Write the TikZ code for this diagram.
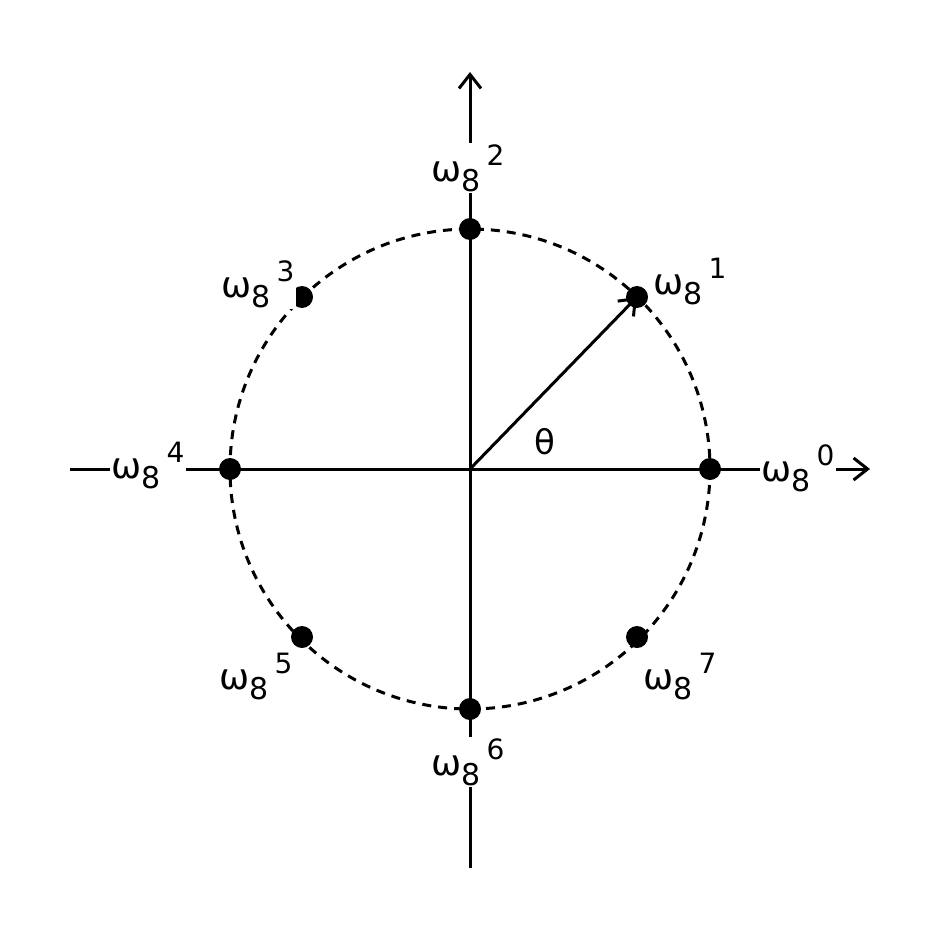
\documentclass[tikz,border=0pt]{standalone}
\usepackage{fontspec}
\setmainfont{DejaVu Sans}
\usetikzlibrary{arrows.meta}
\newcommand{\wlab}[1]{\fontsize{36}{40}\selectfont ω\raisebox{-10pt}{\fontsize{30}{34}\selectfont 8}\,\raisebox{16pt}{\fontsize{28}{32}\selectfont #1}}
\begin{document}
\begin{tikzpicture}[x=1pt,y=-1pt,line width=3pt,
  dotp/.style={circle,fill=black,inner sep=0pt,minimum size=22pt},
  lab/.style={fill=white,inner sep=1pt},
  arr/.style={-{Straight Barb[length=14pt,width=22pt,line width=3pt]}}]
\useasboundingbox (0,0) rectangle (944,944);
\coordinate (O) at (470,469);
\coordinate (L) at (70,469);
\coordinate (R) at (870,469);
\coordinate (T) at (470,72);
\coordinate (B) at (470,868);
\draw[dashed,dash pattern=on 9pt off 7pt] (O) circle (240);
\draw[arr] (L) -- (R);
\draw[arr] (B) -- (T);
\node[dotp] (p0) at (710,469) {};
\node[dotp] (p1) at (637,297) {};
\node[dotp] (p2) at (470,229) {};
\node[dotp] (p3) at (302,297) {};
\node[dotp] (p4) at (230,469) {};
\node[dotp] (p5) at (302,637) {};
\node[dotp] (p6) at (470,709) {};
\node[dotp] (p7) at (637,637) {};
\draw[arr] (O) -- (p1.center);
\node[lab] (l0) at (798,468) {\wlab{0}};
\node[lab] (l1) at (690,282) {\wlab{1}};
\node[lab] (l2) at (468,168) {\wlab{2}};
\node[lab] (l3) at (258,284) {\wlab{3}};
\node[lab] (l4) at (148,466) {\wlab{4}};
\node[lab] (l5) at (256,676) {\wlab{5}};
\node[lab] (l6) at (468,762) {\wlab{6}};
\node[lab] (l7) at (680,676) {\wlab{7}};
\node (th) at (545,442) {\fontsize{34}{38}\selectfont θ};
\end{tikzpicture}
\end{document}
